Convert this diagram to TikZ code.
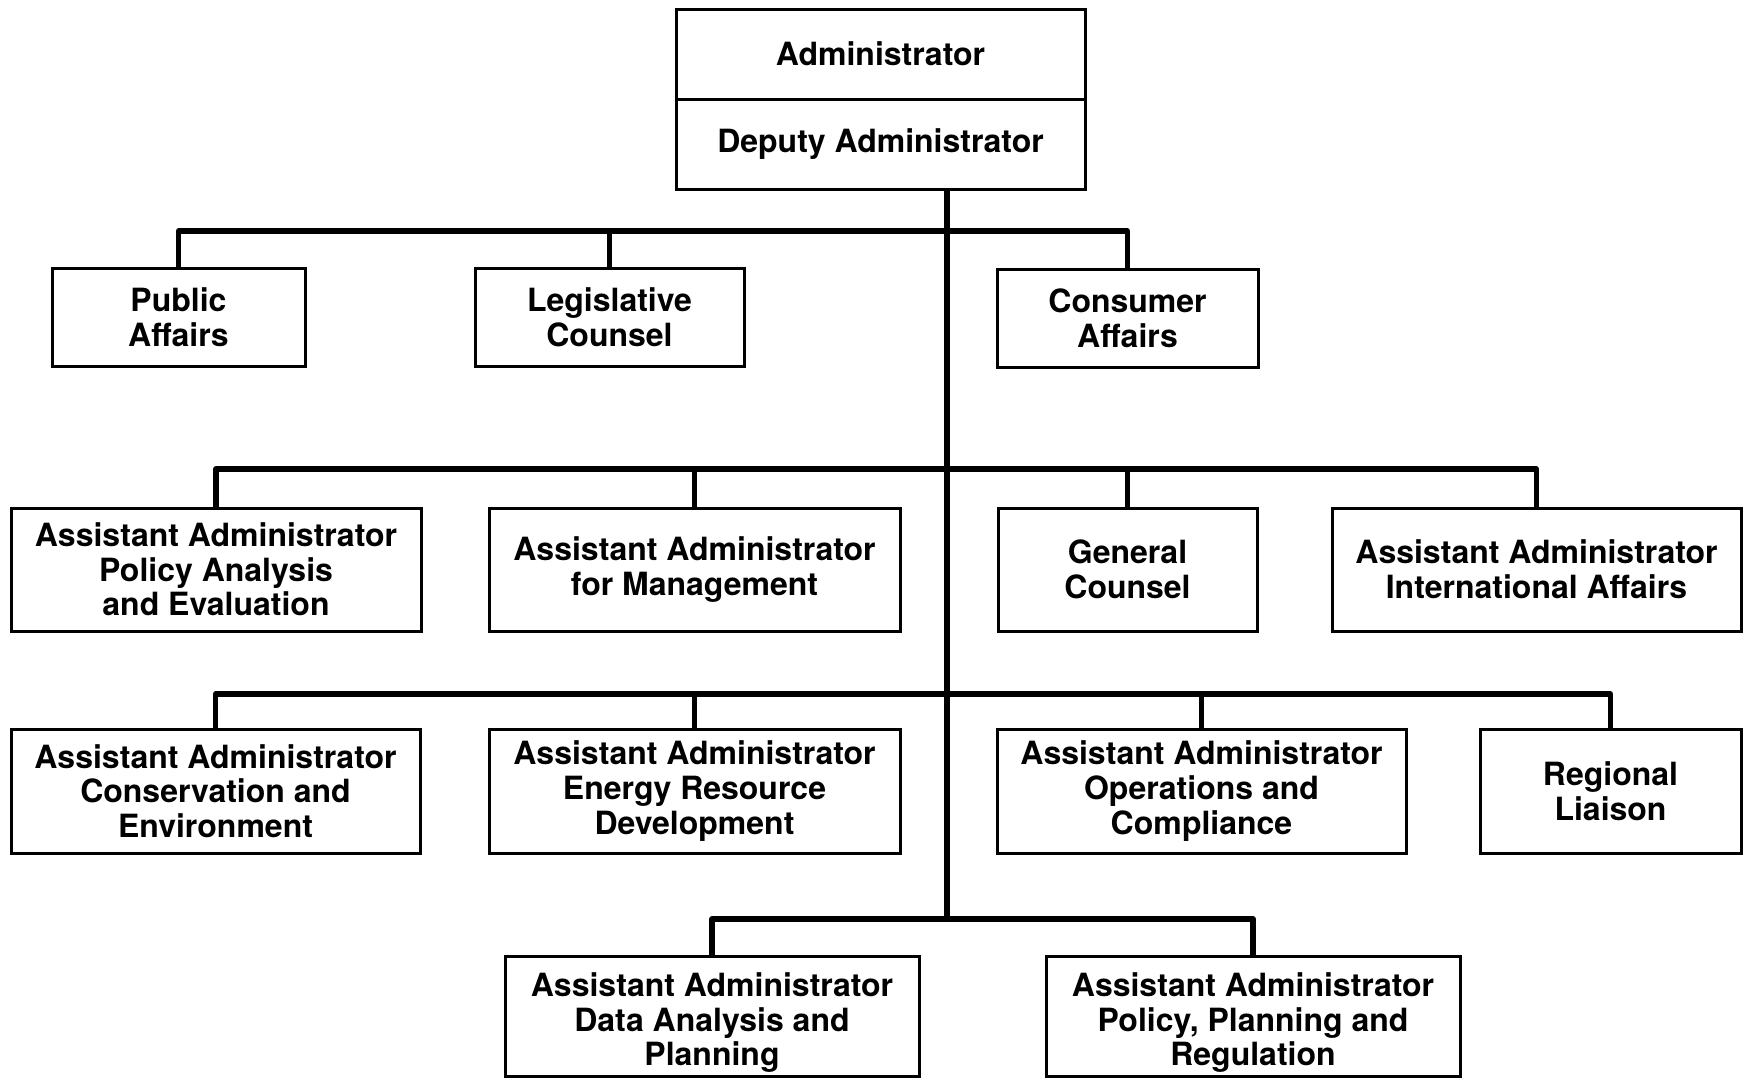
\documentclass[tikz,border=0pt]{standalone}
\usepackage{fontspec}
\setmainfont{TeX Gyre Heros}
\begin{document}
\begin{tikzpicture}[x=0.5pt,y=-0.5pt,
  txt/.style={align=center, inner sep=0pt, font=\fontsize{16}{17.3}\selectfont\bfseries},
  box/.style={draw=black, line width=1.5pt, inner sep=0pt, txt},
  conn/.style={draw=black, line width=2.6pt, line join=round}]
\useasboundingbox[fill=white] (0,0) rectangle (1743,1078);
% top
\node[box, minimum width=204.5pt, minimum height=45pt] (adm) at (880.5,54) {Administrator};
\node[box, minimum width=204.5pt, minimum height=45pt] (dep) at (880.5,144) {Deputy Administrator};
% junction coordinates
\coordinate (h1) at (947,231);
\coordinate (h2) at (947,469);
\coordinate (h3) at (947,694);
\coordinate (h4) at (947,919);
% row 1
\node[box, minimum width=126.5pt, minimum height=49pt] (pub) at (178.5,317) {Public\\Affairs};
\node[box, minimum width=134.5pt, minimum height=49pt] (leg) at (609.5,317) {Legislative\\Counsel};
\node[box, minimum width=130.5pt, minimum height=49pt] (con) at (1127.5,318) {Consumer\\Affairs};
% row 2
\node[box, minimum width=205pt, minimum height=61.5pt] (pae) at (216,569.5) {Assistant Administrator\\Policy Analysis\\and Evaluation};
\node[box, minimum width=205.5pt, minimum height=61.5pt] (mgt) at (694.5,569.5) {Assistant Administrator\\for Management};
\node[box, minimum width=129.5pt, minimum height=61.5pt] (gc) at (1127.5,569.5) {General\\Counsel};
\node[box, minimum width=204.5pt, minimum height=61.5pt] (intl) at (1536.5,569.5) {Assistant Administrator\\International Affairs};
% row 3
\node[box, minimum width=204.5pt, minimum height=62pt, label={[txt]center:{Assistant Administrator\\Conservation and\\Environment}}] (ce) at (215.5,791) {};
\node[box, minimum width=205.5pt, minimum height=62pt, label={[txt]center:{Assistant Administrator\\Energy Resource\\Development}}] (erd) at (694.5,791) {};
\node[box, minimum width=204.5pt, minimum height=62pt, label={[txt]center:{Assistant Administrator\\Operations and\\Compliance}}] (ops) at (1201.5,791) {};
\node[box, minimum width=130.5pt, minimum height=62pt] (reg) at (1610.5,791) {Regional\\Liaison};
% row 4
\node[box, minimum width=207pt, minimum height=60pt, label={[txt, yshift=-3.3pt]center:{Assistant Administrator\\Data Analysis and\\Planning}}] (dap) at (712,1016) {};
\node[box, minimum width=207pt, minimum height=60pt, label={[txt, yshift=-3.3pt]center:{Assistant Administrator\\Policy, Planning and\\Regulation}}] (ppr) at (1253,1016) {};
% connectors
\draw[conn] (dep.south -| h1) -- (h4);
\draw[conn] (pub.north) |- (h1) -| (con.north);
\draw[conn] (leg.north) -- (leg.north |- h1);
\draw[conn] (pae.north) |- (h2) -| (intl.north);
\draw[conn] (mgt.north) -- (mgt.north |- h2);
\draw[conn] (gc.north) -- (gc.north |- h2);
\draw[conn] (ce.north) |- (h3) -| (reg.north);
\draw[conn] (erd.north) -- (erd.north |- h3);
\draw[conn] (ops.north) -- (ops.north |- h3);
\draw[conn] (dap.north) |- (h4) -| (ppr.north);
\end{tikzpicture}
\end{document}
